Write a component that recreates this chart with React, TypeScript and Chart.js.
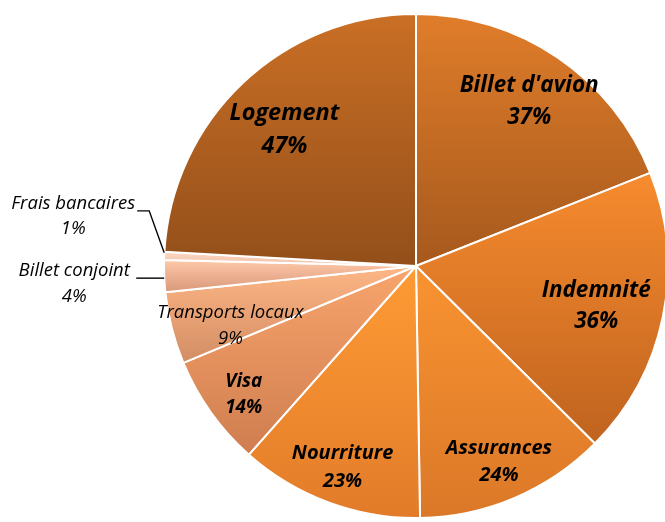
import React, { useEffect, useRef } from "react";
import { Chart, registerables } from "chart.js";

Chart.register(...registerables);

const categories = [
  "Billet d'avion",
  "Indemnité",
  "Assurances",
  "Nourriture",
  "Visa",
  "Transports locaux",
  "Billet conjoint",
  "Frais bancaires",
  "Logement",
];
const values = [37, 36, 24, 23, 14, 9, 4, 1, 47];
const percentLabels = ["37%", "36%", "24%", "23%", "14%", "9%", "4%", "1%", "47%"];

const topColors = ["#E07D2A", "#F78B2E", "#F99331", "#FF9B35", "#F8A46C", "#FDB685", "#FEC9A8", "#FDD8C4", "#CA6F25"];
const bottomColors = ["#A6591D", "#BF631F", "#DB7828", "#E27B29", "#CF7D4F", "#D38D64", "#D9977A", "#F0BFA8", "#934F1A"];

// label styling/layout (not data)
type LabelStyle = {
  frac: number;
  size: number;
  bold: boolean;
  gap: number;
  dy: number;
  outside?: { dx: number; dy: number; line: number[][] };
};
const labelStyles: LabelStyle[] = [
  { frac: 0.8, size: 22.5, bold: true, gap: 32, dy: 2 },
  { frac: 0.73, size: 22.5, bold: true, gap: 31, dy: 3 },
  { frac: 0.84, size: 20, bold: true, gap: 27, dy: 1 },
  { frac: 0.84, size: 20, bold: true, gap: 28, dy: 3 },
  { frac: 0.84, size: 19, bold: true, gap: 26, dy: 6 },
  { frac: 0.76, size: 18.5, bold: false, gap: 26, dy: 12 },
  { frac: 1, size: 18.5, bold: false, gap: 26, dy: 0, outside: { dx: -90, dy: 8, line: [[0, 2], [-28, 2]] } },
  { frac: 1, size: 18.5, bold: false, gap: 25, dy: 0, outside: { dx: -91, dy: -39.5, line: [[0, -3], [-15, -45], [-27, -45]] } },
  { frac: 0.76, size: 23.5, bold: true, gap: 33, dy: 3 },
];

const FONT = "'Open Sans', sans-serif";

const labelPlugin = {
  id: "sliceLabels",
  afterDatasetsDraw(chart: any) {
    const ctx = chart.ctx;
    const meta = chart.getDatasetMeta(0);
    meta.data.forEach((arc: any, i: number) => {
      const st = labelStyles[i];
      const mid = (arc.startAngle + arc.endAngle) / 2;
      const r = arc.outerRadius;
      ctx.save();
      ctx.fillStyle = "#000";
      ctx.font = `italic ${st.bold ? "bold " : ""}${st.size}px ${FONT}`;
      ctx.textAlign = "center";
      ctx.textBaseline = "middle";
      let tx: number, ty: number;
      if (st.outside) {
        const ex = arc.x + Math.cos(mid) * r;
        const ey = arc.y + Math.sin(mid) * r;
        tx = ex + st.outside.dx;
        ty = ey + st.outside.dy;
        ctx.strokeStyle = "#000";
        ctx.lineWidth = 1.4;
        ctx.beginPath();
        st.outside.line.forEach((p, k) => {
          if (k === 0) ctx.moveTo(ex + p[0], ey + p[1]);
          else ctx.lineTo(ex + p[0], ey + p[1]);
        });
        ctx.stroke();
      } else {
        tx = arc.x + Math.cos(mid) * r * st.frac;
        ty = arc.y + Math.sin(mid) * r * st.frac + st.dy;
      }
      ctx.fillText(categories[i], tx, ty - st.gap / 2);
      ctx.fillText(percentLabels[i], tx, ty + st.gap / 2);
      ctx.restore();
    });
  },
};

export default function App() {
  const ref = useRef<HTMLCanvasElement>(null);
  useEffect(() => {
    if (!ref.current) return;
    const total = values.reduce((a, b) => a + b, 0);
    const gradFor = (c: any) => {
      const chart = c.chart;
      const area = chart.chartArea;
      const i = c.dataIndex;
      if (!area || i === undefined) return topColors[i ?? 0];
      const cy = (area.top + area.bottom) / 2;
      const R = Math.min(area.right - area.left, area.bottom - area.top) / 2;
      let cum = 0;
      for (let k = 0; k < i; k++) cum += values[k];
      const a0 = (cum / total) * Math.PI * 2;
      const a1 = ((cum + values[i]) / total) * Math.PI * 2;
      const ys = [cy, cy - R * Math.cos(a0), cy - R * Math.cos(a1)];
      if (a0 <= 0.0001 || a1 >= Math.PI * 2 - 0.0001) ys.push(cy - R);
      if (a0 <= Math.PI && a1 >= Math.PI) ys.push(cy + R);
      const y0 = Math.min(...ys);
      const y1 = Math.max(...ys);
      const g = chart.ctx.createLinearGradient(0, y0, 0, y1 + 0.01);
      g.addColorStop(0, topColors[i]);
      g.addColorStop(1, bottomColors[i]);
      return g;
    };
    const chart = new Chart(ref.current, {
      type: "pie",
      data: {
        labels: categories,
        datasets: [
          {
            data: values,
            backgroundColor: gradFor as any,
            borderColor: "#FFFFFF",
            borderWidth: 2,
          },
        ],
      },
      options: {
        responsive: false,
        animation: false,
        layout: { padding: { left: 163, right: 11, top: 13, bottom: 13 } },
        plugins: { legend: { display: false }, tooltip: { enabled: false } },
      },
      plugins: [labelPlugin],
    });
    return () => chart.destroy();
  }, []);
  return (
    <div style={{ position: "fixed", left: 0, top: 0, width: 665, height: 522, overflow: "hidden", background: "#fff" }}>
      <canvas ref={ref} width={680} height={532} style={{ width: 680, height: 532, display: "block" }} />
    </div>
  );
}
